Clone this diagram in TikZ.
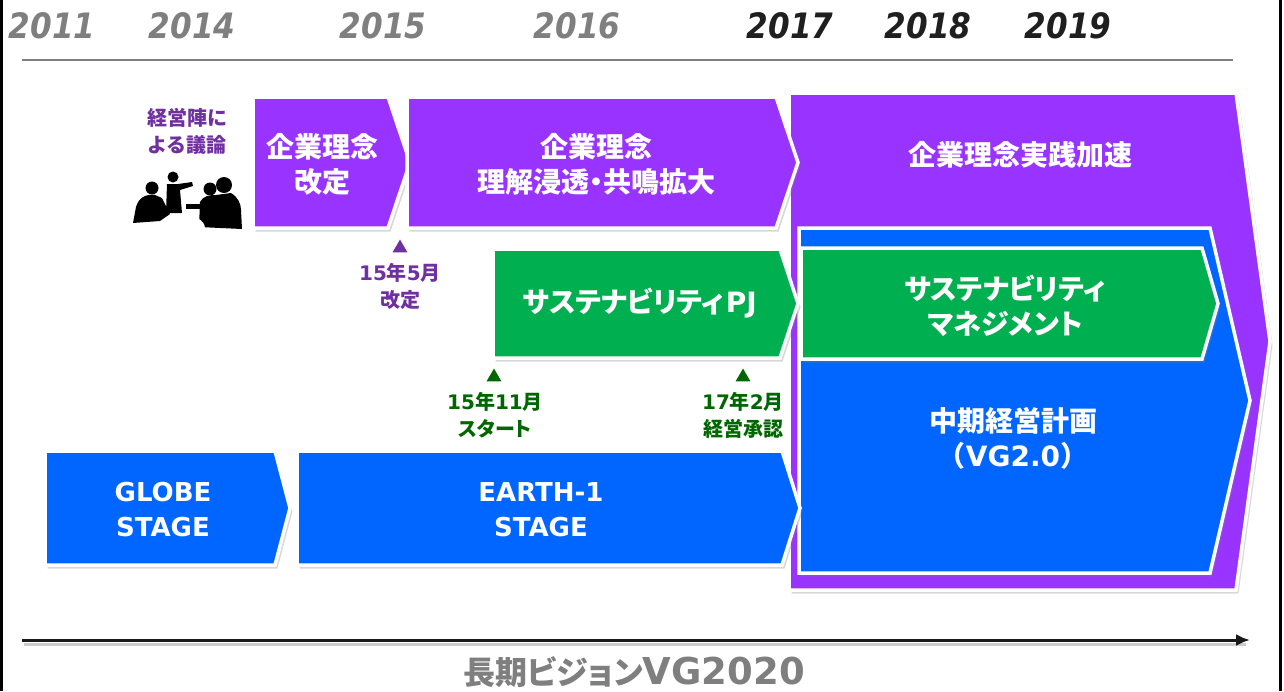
\documentclass[tikz,border=0pt]{standalone}
\usepackage{fontspec}
\setmainfont{DejaVu Sans}
\newfontfamily\jp{Noto Sans CJK JP}
\newfontfamily\jpk{Noto Sans CJK JP}[RawFeature=+palt]
\newfontfamily\yearfont{DejaVu Sans}[FakeStretch=0.89]
\usetikzlibrary{shapes.geometric,shadows,arrows.meta}

\definecolor{purp}{HTML}{9933FF}
\definecolor{vgblue}{HTML}{0066FF}
\definecolor{sgreen}{HTML}{00B050}
\definecolor{labpurp}{HTML}{7030A0}
\definecolor{labgreen}{HTML}{006600}
\definecolor{yeargray}{HTML}{7F7F7F}

\tikzstyle{stage}=[draw=white,line width=3.5pt,line join=miter,drop shadow={shadow xshift=2.5pt,shadow yshift=-3.5pt,opacity=0.3}]
\tikzstyle{stagetext}=[text=white,font=\bfseries\fontsize{28}{35}\selectfont,align=center,inner sep=0pt]
\tikzstyle{year}=[font=\yearfont\bfseries\itshape\fontsize{35}{35}\selectfont,inner sep=0pt]
\tikzstyle{milestone}=[regular polygon,regular polygon sides=3,minimum size=17pt,inner sep=0pt]
\tikzstyle{milelabel}=[font=\bfseries\fontsize{20}{27}\selectfont,align=center,inner sep=0pt]

\begin{document}
\begin{tikzpicture}[x=1pt,y=-1pt]
       \useasboundingbox[fill=white] (0,0) rectangle (1284,691);
       \draw[line width=2.5pt] (1.5,0) -- (1.5,691);
       \draw[line width=2.5pt] (1280.5,0) -- (1280.5,691);

       % years and rule
       \foreach \x/\name in {52/2011, 192/2014, 383/2015, 577/2016} {
           \node[year,text=yeargray] (y\name) at (\x,26) {\name};
       }
       \foreach \x/\name in {790/2017, 928/2018, 1068/2019} {
           \node[year,text=black!88] (y\name) at (\x,26) {\name};
       }
       \draw[yeargray,line width=1.5pt] (22,60) -- (1233,60);

       % stages: left, top, right, tip, bottom, colour
       \foreach \lx/\ty/\rx/\px/\by/\col in {789/93/1236/1270/590/purp, 799/228/1210/1250/573/vgblue,
           801/248/1202/1218/359/sgreen, 253/97/388/410/228/purp, 407/97/776/798/228/purp,
           493/249/780/798/358/sgreen, 45/451/275/290/565/vgblue, 297/451/782/800/565/vgblue} {
           \draw[stage,fill=\col] (\lx,\ty) -- (\rx,\ty) -- (\px,{(\ty+\by)/2}) -- (\rx,\by) -- (\lx,\by) -- cycle;
       }

       \node[stagetext] (kaitei) at (322,164) {\jp 企業理念\\\jp 改定};
       \node[stagetext] (rikai) at (596,164) {\jp 企業理念\\\jpk 理解浸透・共鳴拡大};
       \node[stagetext] (jissen) at (1020,155) {\jp 企業理念実践加速};
       \node[stagetext] (chuki) at (1013,438) {\jp 中期経営計画\\{\jp （}VG2.0{\jp ）}};
       \node[stagetext] (sustmgmt) at (1005,306) {\jpk サステナビリティ\\\jpk マネジメント};
       \node[stagetext] (sustpj) at (640,303) {{\jpk サステナビリティ}\hspace{2pt}PJ};
       \node[stagetext,font=\bfseries\fontsize{26}{35}\selectfont] (globe) at (163,510) {GLOBE\\STAGE};
       \node[stagetext,font=\bfseries\fontsize{26}{35}\selectfont] (earth) at (541,510) {EARTH-1\\STAGE};

       % milestones
       \node[milestone,fill=labpurp] (m1505) at (400,248) {};
       \node[milelabel,text=labpurp] (l1505) at (400,286) {15{\jp 年}5{\jp 月}\\\jp 改定};
       \node[milestone,fill=labgreen] (m1511) at (494,377) {};
       \node[milelabel,text=labgreen] (l1511) at (495,415) {15{\jp 年}11{\jp 月}\\\jpk スタート};
       \node[milestone,fill=labgreen] (m1702) at (743,377) {};
       \node[milelabel,text=labgreen] (l1702) at (743,415) {17{\jp 年}2{\jp 月}\\\jp 経営承認};

       % board meeting
       \node[milelabel,text=labpurp] (giron) at (187,131) {\jp 経営陣に\\\jp よる議論};
       \fill (152,188) circle (6.5);
       \fill (133,223) -- (136,207) .. controls (139,197) and (146,194) .. (155,195) -- (162,198) -- (170,214) -- (160,221) -- cycle;
       \fill (173,177) circle (5.5);
       \fill (167,184) -- (178,184) -- (192,182) -- (193,186) -- (180,190) -- (182,213) -- (166,213) -- cycle;
       \fill (210,189) circle (6.5);
       \fill (224,185) circle (8);
       \fill (199,227) -- (200,202) .. controls (203,196) and (209,195) .. (216,195) -- (231,193) .. controls (238,197) and (241,204) .. (241,210) -- (242,229) -- cycle;
       \fill (186,204) rectangle (201,209);
       \fill[white] (183,228) ellipse (22 and 13);

       % long term vision
       \coordinate (tstart) at (22,640);
       \coordinate (tend) at (1250,640);
       \draw[black!20,line width=3pt] ([shift={(2,4)}]tstart) -- ([shift={(-4,4)}]tend);
       \draw[line width=3pt,black!90,-{Latex[length=14pt,width=12pt]}] (tstart) -- (tend);
       \node[text=yeargray,font=\bfseries\fontsize{37}{37}\selectfont,inner sep=0pt] (vision) at (634,672) {{\jpk\fontsize{32}{37}\selectfont 長期ビジョン}VG2020};
\end{tikzpicture}
\end{document}
